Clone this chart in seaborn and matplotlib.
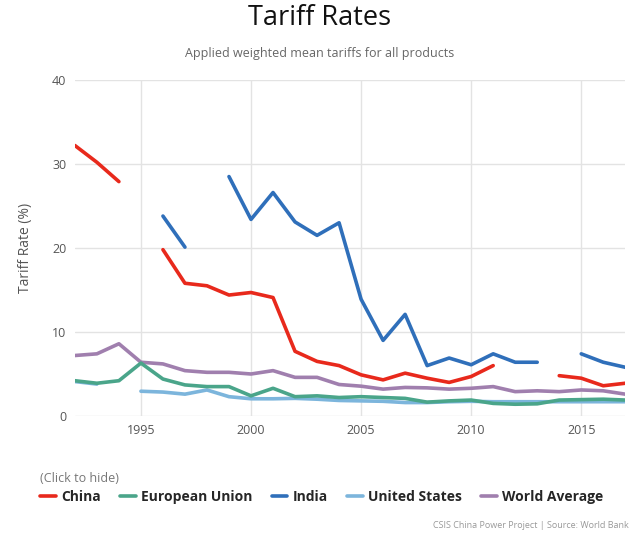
import numpy as np
import pandas as pd
import seaborn as sns
import matplotlib.pyplot as plt
from matplotlib.lines import Line2D

years = list(range(1992, 2018))
nan = np.nan

# values (NaN = no data, breaks the line)
china = [32.2, 30.2, 27.9, nan, 19.8, 15.8, 15.5, 14.4, 14.7, 14.1, 7.7, 6.5, 6.0,
         4.9, 4.3, 5.1, 4.5, 4.0, 4.7, 6.0, nan, nan, 4.8, 4.5, 3.6, 3.9]
eu = [4.2, 3.9, 4.2, 6.3, 4.4, 3.7, 3.5, 3.5, 2.4, 3.3, 2.3, 2.4, 2.2,
      2.3, 2.2, 2.1, 1.65, 1.8, 1.9, 1.5, 1.4, 1.45, 1.9, 1.95, 2.0, 1.9]
india = [nan, nan, nan, nan, 23.8, 20.1, nan, 28.5, 23.4, 26.6, 23.1, 21.5, 23.0,
         13.9, 9.0, 12.1, 6.0, 6.9, 6.1, 7.4, 6.4, 6.4, nan, 7.4, 6.4, 5.8]
us = [4.1, 3.8, nan, 2.95, 2.85, 2.6, 3.1, 2.3, 2.05, 2.05, 2.1, 2.0, 1.85,
      1.8, 1.75, 1.6, 1.6, 1.7, 1.75, 1.7, 1.7, 1.7, 1.7, 1.7, 1.7, 1.7]
world = [7.2, 7.4, 8.6, 6.4, 6.2, 5.4, 5.2, 5.2, 5.0, 5.4, 4.6, 4.6, 3.75,
         3.55, 3.2, 3.4, 3.35, 3.2, 3.3, 3.5, 2.9, 3.0, 2.9, 3.1, 3.0, 2.6]

series_names = ["China", "European Union", "India", "United States", "World Average"]
series_values = [china, eu, india, us, world]
colors = ["#e8291c", "#4aa58a", "#2f6fba", "#7cb5dc", "#a07fae"]

# long table, with a segment id so gaps stay gaps
rows = []
for name, vals in zip(series_names, series_values):
    seg = 0
    for yr, v in zip(years, vals):
        if np.isnan(v):
            seg += 1
            continue
        rows.append({"country": name, "year": yr, "rate": v, "seg": seg})
df = pd.DataFrame(rows)

sns.set_theme(style="white")
plt.rcParams['font.family'] = ['Open Sans', 'DejaVu Sans']

fig = plt.figure(figsize=(6.4, 5.33), dpi=100)
ax = fig.add_axes([0.117, 0.2195, 0.86, 0.6305])

# draw world average first so the others sit on top
draw_order = ["World Average", "United States", "European Union", "China", "India"]
for name in draw_order:
    c = colors[series_names.index(name)]
    sub = df[df["country"] == name]
    sns.lineplot(data=sub, x="year", y="rate", units="seg", estimator=None,
                 color=c, linewidth=2.6, ax=ax, legend=False)

ax.set_xlim(1992, 2017)
ax.set_ylim(0, 40)
ax.set_xticks([1995, 2000, 2005, 2010, 2015])
ax.set_yticks([0, 10, 20, 30, 40])
ax.grid(True, color="#e3e3e3", linewidth=1)
ax.set_axisbelow(True)
for s in ax.spines.values():
    s.set_visible(False)
ax.tick_params(axis="both", colors="#555555", labelsize=9, length=0)
ax.tick_params(axis="y", pad=6)
ax.tick_params(axis="x", pad=6)
ax.set_xlabel("")
ax.set_ylabel("Tariff Rate (%)", fontsize=10, color="#555555", labelpad=14)

fig.text(0.5, 0.967, "Tariff Rates", ha="center", va="center", fontsize=19.5, color="#111111")
fig.text(0.5, 0.899, "Applied weighted mean tariffs for all products", ha="center", va="center",
         fontsize=9, color="#666666")

fig.text(0.063, 0.103, "(Click to hide)", ha="left", va="center", fontsize=9, color="#777777")

handles = [Line2D([0], [0], color=c, linewidth=2.6) for c in colors]
leg = fig.legend(handles, series_names, loc="center left", bbox_to_anchor=(0.063, 0.067),
                 ncol=5, frameon=False, handlelength=1.1, handletextpad=0.4,
                 columnspacing=1.4, borderaxespad=0, borderpad=0,
                 prop={"weight": "bold", "size": 10})

fig.text(0.983, 0.014, "CSIS China Power Project | Source: World Bank", ha="right", va="center",
         fontsize=6.5, color="#999999")

fig.savefig("out.png", dpi=100)
